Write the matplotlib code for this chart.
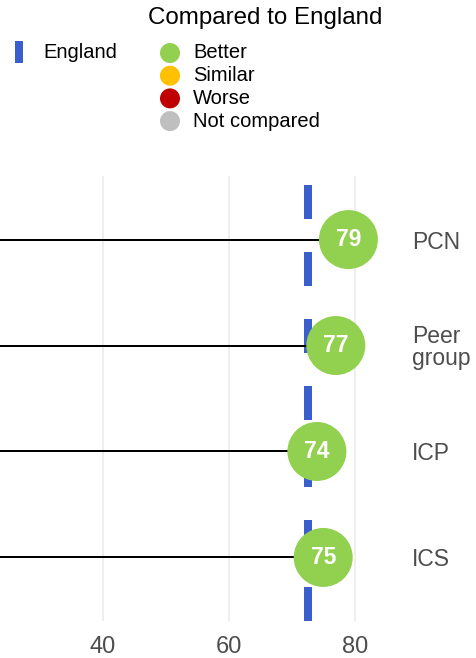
"""Lollipop chart of an indicator for PCN, peer group, ICP and ICS vs England."""

import matplotlib
matplotlib.use("Agg")
import matplotlib.pyplot as plt

plt.rcParams["font.family"] = ["Liberation Sans", "DejaVu Sans"]

# ---------- data -----------------------------------------------------------
areas = ["PCN", "Peer\ngroup", "ICP", "ICS"]
values = [79, 77, 74, 75]
status = ["Better", "Better", "Better", "Better"]
england = 72.6
x_ticks = [40, 60, 80]

legend_title = "Compared to England"
legend_labels = ["Better", "Similar", "Worse", "Not compared"]
STATUS_COLOR = {"Better": "#92D050", "Similar": "#FFC000",
                "Worse": "#C00000", "Not compared": "#BFBFBF"}
ENGLAND_COLOR = "#3A5FCD"

W, H, DPI = 476, 658, 100
PX = 72 / DPI  # points per pixel

fig = plt.figure(figsize=(W / DPI, H / DPI), dpi=DPI)

# main panel, placed in pixel units
left, top, right, bottom = 0, 176, 400, 621
ax = fig.add_axes([left / W, 1 - bottom / H, (right - left) / W, (bottom - top) / H])
ax.set_xlim(23.7, 87.19)
n = len(areas)
ys = list(range(n, 0, -1))
ax.set_ylim(0.4, n + 0.6)

for s in ax.spines.values():
    s.set_visible(False)
for t in x_ticks:
    ax.axvline(t, color="#EBEBEB", lw=1.6 * PX, zorder=0)

# England reference, dashes start from the bottom of the panel
eng, = ax.plot([england, england], [0.4, n + 0.6], color=ENGLAND_COLOR,
               lw=8 * PX, solid_capstyle="butt", dash_capstyle="butt", zorder=1)
eng.set_dashes((34 / 8, 33 / 8))

for y, v, st in zip(ys, values, status):
    ax.plot([0, v], [y, y], color="black", lw=2 * PX, zorder=2)
    ax.scatter([v], [y], s=(59 * PX) ** 2, color=STATUS_COLOR[st],
               edgecolors="none", zorder=3)
    ax.text(v, y, f"{v:.0f}", color="white", fontsize=16.5, fontweight="bold",
            ha="center", va="center", zorder=4)

ax.set_xticks(x_ticks)
ax.set_xticklabels([str(t) for t in x_ticks], fontsize=17, color="#4D4D4D")
ax.tick_params(axis="x", length=0, pad=11)
ax.yaxis.tick_right()
ax.set_yticks(ys)
ax.set_yticklabels(areas, fontsize=16.5, color="#4D4D4D", linespacing=0.95)
ax.tick_params(axis="y", length=0, pad=12 * PX)
for lab in ax.get_yticklabels():
    lab.set_ha("left")

# ---------- legend (pixel overlay) -----------------------------------------
lg = fig.add_axes([0, 0, 1, 1])
lg.set_xlim(0, W)
lg.set_ylim(H, 0)
lg.axis("off")
lg.patch.set_alpha(0)

lg.text(265, 18, legend_title, fontsize=17.4, ha="center", va="center")
lg.plot([19, 19], [41, 63], color=ENGLAND_COLOR, lw=8 * PX, solid_capstyle="butt")
lg.text(43, 53, "England", fontsize=14.5, ha="left", va="center")
for i, lab in enumerate(legend_labels):
    yy = 53 + i * 22.7
    lg.scatter([170], [yy], s=(20 * PX) ** 2, color=STATUS_COLOR[lab], edgecolors="none")
    lg.text(193, yy, lab, fontsize=14.5, ha="left", va="center")

fig.savefig("out.png", dpi=DPI)
